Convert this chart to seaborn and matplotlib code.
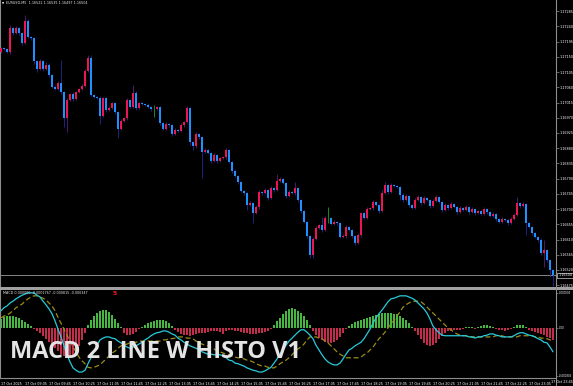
import numpy as np
import pandas as pd
import matplotlib
matplotlib.use("Agg")
import matplotlib.pyplot as plt
import seaborn as sns
from matplotlib.patches import Rectangle

# ---------------- data (EURUSD M5, prices in 1e-5 units) ----------------
open_first = 117164
close_pts = [
    117176, 117173, 117164, 117235, 117220, 117235, 117220, 117191, 117256, 117209,
    117206, 117138, 117114, 117138, 117114, 117126, 117096, 117061, 117055, 117073,
    117046, 116969, 117022, 117040, 117025, 117046, 117055, 117064, 117108, 117147,
    117037, 117031, 117028, 116975, 117028, 116993, 116999, 117013, 116987, 116937,
    116960, 116969, 117022, 117002, 117043, 116999, 117013, 117011, 117008, 117002,
    116996, 116996, 117002, 116954, 116937, 116951, 116948, 116922, 116934, 116931,
    116948, 116957, 116999, 116898, 116886, 116922, 116913, 116869, 116875, 116866,
    116842, 116860, 116842, 116851, 116854, 116875, 116839, 116813, 116798, 116780,
    116753, 116747, 116712, 116718, 116688, 116706, 116750, 116747, 116756, 116733,
    116762, 116756, 116783, 116789, 116777, 116739, 116750, 116747, 116762, 116727,
    116694, 116662, 116620, 116564, 116612, 116644, 116653, 116638, 116674, 116674,
    116656, 116662, 116659, 116617, 116620, 116647, 116638, 116620, 116600, 116623,
    116688, 116674, 116700, 116703, 116721, 116712, 116694, 116747, 116771, 116750,
    116771, 116768, 116765, 116742, 116727, 116739, 116712, 116703, 116727, 116736,
    116718, 116733, 116727, 116709, 116724, 116736, 116721, 116697, 116712, 116703,
    116715, 116706, 116691, 116703, 116697, 116706, 116691, 116700, 116688, 116694,
    116685, 116700, 116691, 116680, 116685, 116671, 116662, 116671, 116668, 116659,
    116671, 116683, 116718, 116709, 116715, 116659, 116647, 116629, 116617, 116609,
    116570, 116579, 116549, 116520, 116504,
]
upper_wick = [
    4, 3, 4, 10, 4, 6, 4, 3, 18, 5,
    3, 4, 3, 6, 4, 8, 6, 4, 5, 5,
    68, 4, 6, 4, 5, 4, 3, 5, 6, 8,
    9, 3, 4, 5, 4, 4, 5, 4, 3, 4,
    5, 4, 6, 4, 24, 5, 4, 3, 4, 5,
    4, 12, 4, 3, 4, 5, 3, 4, 5, 4,
    5, 4, 6, 4, 3, 6, 4, 4, 5, 4,
    4, 5, 4, 3, 4, 6, 4, 3, 4, 3,
    4, 3, 4, 5, 4, 5, 6, 4, 5, 4,
    5, 4, 20, 6, 4, 3, 5, 4, 18, 4,
    3, 4, 3, 4, 6, 5, 4, 24, 5, 33,
    4, 5, 4, 3, 5, 6, 4, 3, 4, 5,
    4, 4, 5, 4, 6, 4, 3, 9, 9, 4,
    5, 4, 3, 4, 4, 5, 3, 4, 5, 6,
    4, 5, 4, 3, 5, 6, 4, 3, 5, 4,
    5, 4, 3, 5, 4, 5, 4, 5, 3, 4,
    4, 6, 4, 3, 5, 4, 4, 6, 4, 3,
    5, 6, 18, 4, 5, 4, 3, 3, 4, 3,
    4, 30, 4, 3, 3,
]
lower_wick = [
    4, 4, 3, 5, 4, 3, 4, 5, 4, 4,
    5, 8, 10, 4, 5, 4, 5, 4, 4, 4,
    5, 27, 40, 4, 5, 4, 3, 4, 4, 3,
    4, 3, 4, 24, 4, 5, 4, 3, 5, 27,
    4, 3, 5, 4, 3, 5, 4, 3, 4, 4,
    5, 24, 4, 5, 4, 3, 4, 5, 4, 3,
    4, 5, 4, 10, 12, 5, 6, 77, 4, 3,
    5, 4, 5, 3, 4, 5, 4, 5, 4, 5,
    4, 5, 15, 4, 30, 4, 5, 4, 3, 5,
    4, 5, 4, 3, 4, 6, 4, 3, 4, 5,
    6, 4, 5, 9, 9, 4, 3, 5, 4, 15,
    4, 3, 5, 3, 4, 5, 4, 5, 6, 4,
    5, 4, 3, 4, 5, 4, 5, 4, 3, 5,
    4, 3, 4, 15, 5, 4, 5, 4, 3, 4,
    5, 4, 3, 5, 4, 3, 4, 5, 4, 5,
    4, 3, 5, 4, 3, 4, 5, 4, 5, 3,
    4, 4, 5, 4, 3, 5, 4, 3, 4, 5,
    4, 3, 4, 5, 4, 35, 4, 5, 4, 5,
    6, 41, 5, 20, 30,
]
# MACD indicator values in 1e-5 units
macd_main = [
    29, 34, 37, 42, 45, 49, 52, 55, 57, 59,
    59, 59, 55, 52, 45, 39, 32, 24, 12, -2,
    -15, -30, -45, -57, -67, -71, -74, -74, -71, -60,
    -50, -40, -29, -20, -17, -15, -15, -17, -18, -22,
    -25, -29, -32, -34, -32, -30, -27, -24, -20, -17,
    -13, -10, -8, -7, -5, -5, -7, -10, -12, -17,
    -20, -24, -27, -30, -32, -34, -37, -40, -42, -44,
    -44, -45, -45, -45, -47, -50, -54, -55, -59, -60,
    -62, -64, -67, -69, -71, -72, -74, -74, -72, -69,
    -66, -59, -52, -44, -37, -29, -22, -17, -12, -7,
    -3, -3, -7, -12, -18, -29, -37, -45, -52, -57,
    -60, -62, -62, -59, -52, -44, -37, -34, -30, -27,
    -24, -18, -10, -2, 8, 17, 24, 30, 37, 44,
    49, 50, 52, 54, 54, 54, 52, 50, 47, 42,
    37, 32, 25, 15, 3, -3, -8, -12, -13, -13,
    -13, -13, -13, -13, -13, -13, -15, -15, -17, -15,
    -15, -13, -12, -10, -10, -12, -13, -15, -15, -15,
    -15, -13, -10, -8, -8, -10, -12, -13, -15, -18,
    -20, -24, -25, -32, -40,
]
macd_signal = [
    17, 20, 22, 25, 29, 34, 37, 40, 45, 49,
    52, 54, 54, 52, 50, 47, 42, 37, 29, 18,
    8, -2, -12, -22, -32, -40, -49, -55, -60, -66,
    -67, -66, -64, -62, -57, -52, -47, -42, -39, -34,
    -30, -29, -27, -25, -24, -24, -22, -22, -22, -22,
    -22, -22, -22, -22, -20, -20, -18, -18, -17, -15,
    -15, -15, -17, -17, -18, -22, -25, -27, -29, -30,
    -34, -35, -39, -40, -42, -44, -45, -47, -49, -50,
    -50, -52, -54, -55, -57, -60, -62, -64, -64, -66,
    -67, -67, -64, -60, -57, -54, -50, -45, -40, -35,
    -32, -27, -20, -15, -15, -15, -17, -18, -22, -25,
    -30, -35, -40, -44, -47, -50, -50, -50, -50, -50,
    -49, -45, -42, -37, -32, -25, -18, -13, -7, 0,
    7, 13, 20, 27, 35, 39, 42, 45, 45, 45,
    44, 40, 35, 30, 25, 20, 15, 10, 5, 0,
    -3, -7, -10, -12, -13, -13, -15, -15, -15, -15,
    -15, -15, -15, -15, -15, -13, -13, -13, -15, -15,
    -15, -15, -15, -13, -13, -13, -13, -13, -15, -15,
    -17, -17, -18, -20, -22,
]
macd_hist = [
    15, 18, 20, 20, 20, 18, 17, 13, 10, 7,
    3, -2, -5, -8, -13, -18, -24, -29, -34, -39,
    -44, -47, -50, -49, -45, -39, -30, -20, -8, 5,
    13, 20, 25, 29, 30, 30, 27, 22, 15, 8,
    2, -8, -12, -12, -10, -7, -2, 2, 5, 8,
    10, 12, 13, 13, 13, 12, 8, 3, -3, -7,
    -10, -12, -12, -13, -12, -10, -8, -8, -8, -7,
    -5, -5, -5, -7, -10, -5, -3, -3, -5, -5,
    -7, -8, -8, -10, -10, -10, -8, -8, -7, -5,
    -2, 5, 12, 17, 24, 29, 32, 34, 32, 29,
    25, 20, 13, 5, -5, -12, -17, -20, -24, -25,
    -25, -24, -20, -15, -8, -2, 3, 7, 10, 12,
    13, 15, 17, 18, 20, 22, 24, 25, 25, 25,
    25, 24, 24, 20, 17, 13, 8, 2, -5, -12,
    -18, -25, -29, -30, -29, -25, -18, -13, -8, -5,
    -5, -3, -3, -3, -2, 2, 2, 2, -2, 2,
    3, 5, 5, 3, 2, -2, -3, -3, -5, -3,
    -2, 2, 5, 5, 5, 2, -3, -5, -7, -8,
    -10, -12, -15, -17, -20,
]
price_ticks = [1.16475, 1.16520, 1.16565, 1.16610, 1.16655, 1.16700, 1.16745,
               1.16790, 1.16835, 1.16880, 1.16925, 1.16970, 1.17015, 1.17060,
               1.17105, 1.17150, 1.17195, 1.17240, 1.17285]
macd_ticks = [0.000593, 0.0, -0.000806]
macd_tick_labels = ["0.000593", "0.00", "-0.000806"]
time_labels = ["17 Oct 2025", "17 Oct 09:05", "17 Oct 09:45", "17 Oct 10:25",
               "17 Oct 11:05", "17 Oct 11:45", "17 Oct 12:25", "17 Oct 13:05",
               "17 Oct 13:45", "17 Oct 14:25", "17 Oct 15:05", "17 Oct 15:45",
               "17 Oct 16:25", "17 Oct 17:05", "17 Oct 17:45", "17 Oct 18:25",
               "17 Oct 19:05", "17 Oct 19:45", "17 Oct 20:25", "17 Oct 21:05",
               "17 Oct 21:45", "17 Oct 22:25", "17 Oct 23:05", "17 Oct 23:45"]
bars_per_label = 8
header = "EURUSD,M5  1.16522 1.16535 1.16497 1.16504"
macd_header = "MACD 0.000000 -0.0001767 -0.000815 -0.000347"
title_text = "MACD 2 LINE W HISTO V1"

# ---------------- derived frame ----------------
n = len(close_pts)
idx = np.arange(n)
closes = np.array(close_pts) / 1e5
opens = np.array([open_first] + close_pts[:-1]) / 1e5
highs = np.maximum(opens, closes) + np.array(upper_wick) / 1e5
lows = np.minimum(opens, closes) - np.array(lower_wick) / 1e5
df = pd.DataFrame({"i": idx, "o": opens, "c": closes, "h": highs, "l": lows,
                   "macd": np.array(macd_main) / 1e5, "signal": np.array(macd_signal) / 1e5,
                   "osma": np.array(macd_hist) / 1e5})
df["dir"] = np.where(df["c"] > df["o"], "up", np.where(df["c"] < df["o"], "down", "doji"))
df["hsign"] = np.where(df["osma"] >= 0, "pos", "neg")

# ---------------- styling ----------------
sns.set_theme(style="dark")
plt.rcParams["font.family"] = ["DejaVu Sans"]
BG = "black"
GRID = "#8c8c8c"
UP = "#ec1556"
DOWN = "#1e90ff"
DOJI = "#1fa01f"
WICK = {"up": "#5a1d7c", "down": "#1d2a92", "doji": DOJI}
BODY = {"up": UP, "down": DOWN, "doji": DOJI}
SMALL = 2.4

W, H = 573, 386
fig = plt.figure(figsize=(W / 100, H / 100), dpi=100, facecolor=BG)
ax = fig.add_axes([0, (H - 287) / H, 556 / W, 287 / H])
axm = fig.add_axes([0, (H - 378) / H, 556 / W, 88 / H], sharex=ax)
for a in (ax, axm):
    a.set_facecolor(BG)
    a.grid(False)
    for s in a.spines.values():
        s.set_color(GRID)
        s.set_linewidth(0.8)

# ---------------- candles ----------------
ax.vlines(df["i"], df["l"], df["h"], colors=[WICK[d] for d in df["dir"]], linewidth=0.6, zorder=2)
body_h = np.maximum((df["c"] - df["o"]).abs(), 1.0e-5)
ax.bar(df["i"], body_h, bottom=np.minimum(df["o"], df["c"]), width=0.68,
       color=[BODY[d] for d in df["dir"]], linewidth=0, zorder=3)
ax.axhline(closes[-1], color="#9a9a9a", linewidth=0.6, zorder=1)
ax.set_xlim(-1 / 3, n)
ax.set_ylim(1.164696, 1.17318)
ax.spines["top"].set_visible(False)
ax.spines["bottom"].set_visible(False)
ax.yaxis.tick_right()
ax.set_yticks(price_ticks)
ax.set_yticklabels([f"{p:.5f}" for p in price_ticks])
ax.tick_params(axis="y", colors=GRID, labelcolor="white", labelsize=SMALL, length=2.0,
               width=0.5, pad=0.8, direction="out")
ax.tick_params(axis="x", bottom=False, labelbottom=False)
ax.text(1.004, closes[-1], f"{closes[-1]:.5f}", transform=ax.get_yaxis_transform(),
        fontsize=SMALL, color="white", va="center", ha="left", zorder=5,
        bbox=dict(boxstyle="square,pad=0.25", fc=BG, ec="white", lw=0.4))

# ---------------- MACD pane ----------------
sns.barplot(data=df, x="i", y="osma", hue="hsign", palette={"pos": "#34cc2c", "neg": "#dc143c"},
            native_scale=True, dodge=False, width=0.7, errorbar=None, legend=False,
            linewidth=0, ax=axm, zorder=2)
sns.lineplot(data=df, x="i", y="signal", color="#9a8c18", linewidth=0.9,
             linestyle=(0, (4, 2.2)), ax=axm, zorder=3)
sns.lineplot(data=df, x="i", y="macd", color="#26cbdc", linewidth=0.9, ax=axm, zorder=4)
axm.set_xlim(-1 / 3, n)
axm.set_ylim(-0.00084, 0.000638)
axm.set_xlabel("")
axm.set_ylabel("")
axm.spines["top"].set_visible(False)
axm.yaxis.tick_right()
axm.set_yticks(macd_ticks)
axm.set_yticklabels(macd_tick_labels)
axm.tick_params(axis="y", colors=GRID, labelcolor="white", labelsize=1.9, length=1.5,
                width=0.5, pad=0.5, direction="out")
tick_pos = [k * bars_per_label for k in range(len(time_labels))]
axm.set_xticks(tick_pos)
axm.set_xticklabels(time_labels[:-1] + [""], ha="left")
axm.tick_params(axis="x", colors=GRID, labelcolor="white", labelsize=SMALL, length=2.0,
                width=0.5, pad=0.8, direction="out")
# last time label sits against the right edge, as in the terminal
fig.text(572.5 / W, 1 - 382.2 / H, time_labels[-1], fontsize=SMALL, color="white",
         ha="right", va="center")

# ---------------- separators & texts ----------------
fig.add_artist(Rectangle((0, (H - 289.6) / H), 1, 2.6 / H, transform=fig.transFigure,
                         color="#a0a0a0", lw=0))
fig.add_artist(Rectangle((556 / W, 0), 0.9 / W, 1, transform=fig.transFigure,
                         color=GRID, lw=0))
fig.text(1.5 / W, 1 - 3.5 / H, "\u25bc", fontsize=2.0, color="white", va="center")
fig.text(6 / W, 1 - 3.5 / H, header, fontsize=SMALL, color="#e6e6e6", va="center")
fig.text(3 / W, 1 - 293 / H, macd_header, fontsize=SMALL, color="#e6e6e6", va="center")
fig.text(113 / W, 1 - 293.5 / H, "5", fontsize=4.5, color="#ff1a1a", weight="bold", va="center")
fig.text(10 / W, 1 - 358 / H, title_text, fontsize=17, color="#e4e4e4", weight="bold",
         family=["Open Sans", "DejaVu Sans"], va="baseline", ha="left", zorder=20)

fig.savefig("out.png", dpi=100, facecolor=BG)
